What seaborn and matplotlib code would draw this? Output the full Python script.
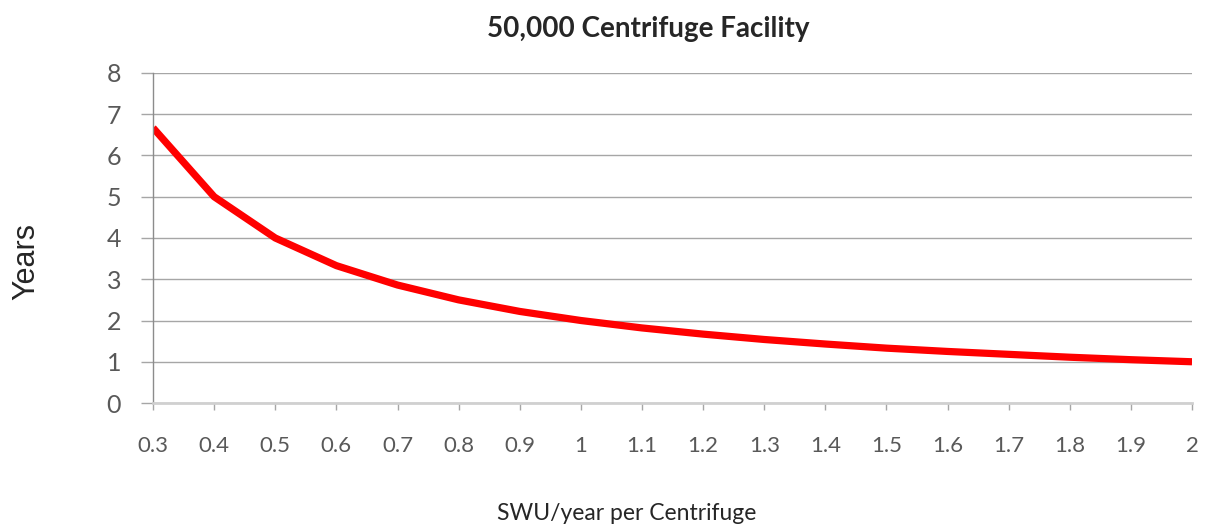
import matplotlib
matplotlib.use("Agg")
import seaborn as sns
import matplotlib.pyplot as plt
import pandas as pd

# data
swu = ["0.3", "0.4", "0.5", "0.6", "0.7", "0.8", "0.9", "1", "1.1", "1.2",
       "1.3", "1.4", "1.5", "1.6", "1.7", "1.8", "1.9", "2"]
years = [6.67, 5.0, 4.0, 3.33, 2.86, 2.5, 2.22, 2.0, 1.82, 1.67,
         1.54, 1.43, 1.33, 1.25, 1.18, 1.11, 1.05, 1.0]
yticks = [0, 1, 2, 3, 4, 5, 6, 7, 8]

df = pd.DataFrame({"swu": swu, "years": years})

sns.set_style("white")
plt.rcParams["font.family"] = ["Lato", "DejaVu Sans"]

fig = plt.figure(figsize=(12.07, 5.3), dpi=100)
ax = fig.add_axes([0.1268, 0.2396, 0.8608, 0.6227])

sns.lineplot(data=df, x="swu", y="years", ax=ax, color="#ff0000", linewidth=5.2,
             solid_capstyle="butt")

ax.set_xlim(0, len(swu) - 1)
ax.set_ylim(0, 8)
ax.set_yticks(yticks)
ax.set_yticklabels([str(t) for t in yticks])
ax.yaxis.grid(True, color="#a6a6a6", linewidth=1.0)
ax.set_axisbelow(True)

for s in ["top", "right"]:
    ax.spines[s].set_visible(False)
ax.spines["left"].set_color("#8c8c8c")
ax.spines["left"].set_linewidth(1.0)
ax.spines["bottom"].set_color("#d0d0d0")
ax.spines["bottom"].set_linewidth(2.0)

ax.tick_params(axis="y", length=9, width=1.0, color="#a6a6a6", pad=14,
               labelsize=18, labelcolor="#595959", left=True)
ax.tick_params(axis="x", length=5, width=1.0, color="#a6a6a6", pad=19,
               labelsize=16, labelcolor="#595959", bottom=True)
ax.set_xlabel("")
ax.set_ylabel("")

# titles placed in figure coordinates
fig.text(0.537, 0.946, "50,000 Centrifuge Facility", fontsize=20,
         fontweight="bold", ha="center", va="center")
fig.text(0.519, 0.032, "SWU/year per Centrifuge", fontsize=16.5,
         ha="center", va="center")
fig.text(0.022, 0.506, "Years", fontsize=22, family=["Liberation Sans"],
         rotation=90, ha="center", va="center")

fig.savefig("out.png", dpi=100)
